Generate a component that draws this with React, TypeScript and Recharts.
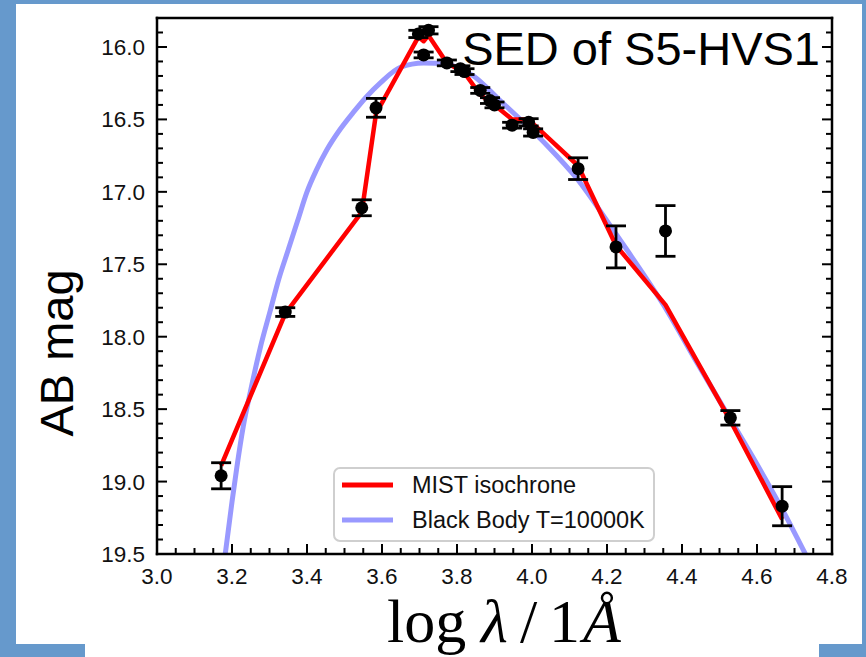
import React from 'react';
import { ComposedChart, Line, Scatter, ErrorBar, XAxis, YAxis, Legend } from 'recharts';

const W = 866;
const H = 657;

// Observed photometry of S5-HVS1: log wavelength, AB magnitude, 1-sigma error
const obsLogLambda = [3.171, 3.342, 3.546, 3.584, 3.697, 3.711, 3.724, 3.773, 3.809, 3.82, 3.862, 3.888, 3.9, 3.947, 3.991, 4.003, 4.123, 4.224, 4.356, 4.529, 4.667];
const obsMag = [18.96, 17.83, 17.11, 16.42, 15.91, 16.055, 15.885, 16.11, 16.15, 16.17, 16.3, 16.37, 16.4, 16.54, 16.52, 16.59, 16.84, 17.38, 17.27, 18.56, 19.17];
const obsErr = [0.09, 0.03, 0.055, 0.065, 0.025, 0.02, 0.025, 0.02, 0.02, 0.02, 0.02, 0.02, 0.02, 0.02, 0.025, 0.025, 0.075, 0.145, 0.175, 0.05, 0.135];

// Synthetic magnitudes from the MIST isochrone in the same bands
const mistLogLambda = [3.171, 3.342, 3.546, 3.584, 3.697, 3.711, 3.724, 3.773, 3.809, 3.82, 3.862, 3.888, 3.9, 3.947, 3.991, 4.003, 4.123, 4.224, 4.356, 4.529, 4.667];
const mistMag = [18.89, 17.84, 17.14, 16.46, 15.93, 15.96, 15.92, 16.11, 16.16, 16.18, 16.33, 16.38, 16.4, 16.5, 16.5, 16.53, 16.82, 17.37, 17.78, 18.58, 19.26];

// Black body curve, T = 10000 K
const bbLogLambda = [3.182, 3.2, 3.213, 3.23, 3.249, 3.275, 3.302, 3.325, 3.35, 3.375, 3.4, 3.425, 3.453, 3.488, 3.524, 3.56, 3.595, 3.649, 3.711, 3.773, 3.844, 3.915, 3.977, 4.04, 4.12, 4.2, 4.253, 4.36, 4.44, 4.52, 4.6, 4.667, 4.729];
const bbMag = [19.5, 19.14, 18.9, 18.62, 18.38, 18.08, 17.82, 17.6, 17.4, 17.2, 17.0, 16.85, 16.71, 16.57, 16.45, 16.34, 16.25, 16.14, 16.11, 16.12, 16.2, 16.37, 16.52, 16.68, 16.91, 17.2, 17.4, 17.82, 18.18, 18.53, 18.88, 19.19, 19.5];

// Axis ticks
const xMajorTicks = [3.0, 3.2, 3.4, 3.6, 3.8, 4.0, 4.2, 4.4, 4.6, 4.8];
const yMajorTicks = [16.0, 16.5, 17.0, 17.5, 18.0, 18.5, 19.0, 19.5];
const xDomain: [number, number] = [3.0, 4.8];
const yDomain: [number, number] = [15.8, 19.5];

const legendOrder = ['MIST isochrone', 'Black Body T=10000K'];

const subdivide = (majors: number[], parts: number) => {
  const out: number[] = [];
  for (let i = 0; i < majors.length - 1; i++) {
    for (let k = 0; k < parts; k++) {
      out.push(+(majors[i] + ((majors[i + 1] - majors[i]) * k) / parts).toFixed(4));
    }
  }
  out.push(majors[majors.length - 1]);
  return out;
};

const xTicks = subdivide(xMajorTicks, 4);
const yTicks = [15.9, ...subdivide(yMajorTicks, 5)];

const obsData = obsLogLambda.map((x, i) => ({ x, mag: obsMag[i], err: obsErr[i] }));
const mistData = mistLogLambda.map((x, i) => ({ x, mag: mistMag[i] }));
const bbData = bbLogLambda.map((x, i) => ({ x, mag: bbMag[i] }));

const SANS = '"Liberation Sans", Arial, Helvetica, sans-serif';
const SERIF = '"Liberation Serif", "Times New Roman", serif';

const MAJOR_LEN = 10;
const MINOR_LEN = 6;

type Side = 'bottom' | 'top' | 'left' | 'right';

// Inward-pointing ticks on every side of the frame; labels only on bottom and left.
const makeTick = (side: Side, majors: number[], withLabel: boolean) => (props: any) => {
  const { x, y, payload } = props;
  const v = payload.value as number;
  const major = majors.some((m) => Math.abs(m - v) < 1e-6);
  const len = major ? MAJOR_LEN : MINOR_LEN;
  let x2 = x;
  let y2 = y;
  if (side === 'bottom') y2 = y - len;
  if (side === 'top') y2 = y + len;
  if (side === 'left') x2 = x + len;
  if (side === 'right') x2 = x - len;
  return (
    <g>
      <line x1={x} y1={y} x2={x2} y2={y2} stroke="#000" strokeWidth={2} />
      {withLabel && major && side === 'bottom' && (
        <text x={x} y={y + 30} textAnchor="middle" fontSize={22.5} fontFamily={SANS} fill="#111">
          {v.toFixed(1)}
        </text>
      )}
      {withLabel && major && side === 'left' && (
        <text x={x - 12} y={y + 8} textAnchor="end" fontSize={22.5} fontFamily={SANS} fill="#111">
          {v.toFixed(1)}
        </text>
      )}
    </g>
  );
};

const frameLine = { stroke: '#000', strokeWidth: 2.5, strokeLinecap: 'square' as const };

const renderLegend = (props: any) => {
  const items = [...(props.payload || [])]
    .filter((it: any) => legendOrder.includes(it.value))
    .sort((a: any, b: any) => legendOrder.indexOf(a.value) - legendOrder.indexOf(b.value));
  return (
    <svg width={322} height={75} style={{ display: 'block' }}>
      <rect x={1} y={1} width={320} height={73} rx={6} ry={6} fill="rgba(255,255,255,0.85)" stroke="#cfcfcf" strokeWidth={2} />
      {items.map((it: any, i: number) => (
        <g key={it.value}>
          <line x1={9} x2={60} y1={18 + i * 35} y2={18 + i * 35} stroke={it.color} strokeWidth={5} />
          <text x={79} y={26 + i * 35} fontSize={23.5} fontFamily={SANS} fill="#111">
            {it.value}
          </text>
        </g>
      ))}
    </svg>
  );
};

const Dot = (p: any) => <circle cx={p.cx} cy={p.cy} r={6.5} fill="#000" />;

export default function App() {
  return (
    <div style={{ position: 'absolute', left: 0, top: 0, width: W, height: H, background: '#6699cc', overflow: 'hidden' }}>
      <div style={{ position: 'absolute', left: 16, top: 4, width: 846, height: 640, background: '#fff' }} />
      <div style={{ position: 'absolute', left: 85, top: 644, width: 734, height: 13, background: '#fff' }} />
      <div style={{ position: 'absolute', left: 0, top: 0 }}>
        <ComposedChart width={W} height={H} margin={{ top: 18, right: 34, bottom: 103, left: 157 }}>
          <XAxis
            xAxisId="b"
            orientation="bottom"
            mirror
            type="number"
            dataKey="x"
            domain={xDomain}
            allowDataOverflow
            ticks={xTicks}
            interval={0}
            tickSize={0}
            tickMargin={0}
            tickLine={false}
            axisLine={frameLine}
            tick={makeTick('bottom', xMajorTicks, true)}
            height={30}
          />
          <XAxis
            xAxisId="t"
            orientation="top"
            mirror
            type="number"
            domain={xDomain}
            allowDataOverflow
            ticks={xTicks}
            interval={0}
            tickSize={0}
            tickMargin={0}
            tickLine={false}
            axisLine={frameLine}
            tick={makeTick('top', xMajorTicks, false)}
            height={30}
          />
          <YAxis
            yAxisId="l"
            orientation="left"
            mirror
            type="number"
            domain={yDomain}
            reversed
            allowDataOverflow
            ticks={yTicks}
            interval={0}
            tickSize={0}
            tickMargin={0}
            tickLine={false}
            axisLine={frameLine}
            tick={makeTick('left', yMajorTicks, true)}
            width={60}
          />
          <YAxis
            yAxisId="r"
            orientation="right"
            mirror
            type="number"
            domain={yDomain}
            reversed
            allowDataOverflow
            ticks={yTicks}
            interval={0}
            tickSize={0}
            tickMargin={0}
            tickLine={false}
            axisLine={frameLine}
            tick={makeTick('right', yMajorTicks, false)}
            width={60}
          />
          <Line
            xAxisId="b"
            yAxisId="l"
            data={bbData}
            dataKey="mag"
            name="Black Body T=10000K"
            type="monotone"
            stroke="#9999ff"
            strokeWidth={5}
            dot={false}
            activeDot={false}
            isAnimationActive={false}
          />
          <Line
            xAxisId="b"
            yAxisId="l"
            data={mistData}
            dataKey="mag"
            name="MIST isochrone"
            type="linear"
            stroke="#ff0000"
            strokeWidth={4.5}
            strokeLinejoin="round"
            dot={false}
            activeDot={false}
            isAnimationActive={false}
          />
          <Scatter
            xAxisId="b"
            yAxisId="l"
            data={obsData}
            dataKey="mag"
            name="data"
            legendType="none"
            shape={Dot}
            isAnimationActive={false}
          >
            <ErrorBar dataKey="err" direction="y" width={10} strokeWidth={2.8} stroke="#000" isAnimationActive={false} />
          </Scatter>
          <Legend
            layout="vertical"
            align="center"
            verticalAlign="middle"
            width={322}
            height={75}
            wrapperStyle={{ position: 'absolute', left: 333, top: 467, width: 322, height: 75 }}
            content={renderLegend}
          />
        </ComposedChart>
      </div>
      <svg width={W} height={H} style={{ position: 'absolute', left: 0, top: 0, pointerEvents: 'none' }}>
        <text x={820} y={65} textAnchor="end" fontSize={47} fontFamily={SANS} fill="#000">
          SED of S5-HVS1
        </text>
        <text transform="translate(73,353) rotate(-90)" textAnchor="middle" fontSize={47} fontFamily={SANS} fill="#000">
          AB mag
        </text>
        <text y={642} fontSize={62} fontFamily={SERIF} fill="#000">
          <tspan x={387}>log</tspan>
          <tspan x={481} fontStyle="italic">λ</tspan>
          <tspan x={520}>/</tspan>
          <tspan x={549}>1</tspan>
          <tspan x={583} fontStyle="italic">Å</tspan>
        </text>
      </svg>
    </div>
  );
}
